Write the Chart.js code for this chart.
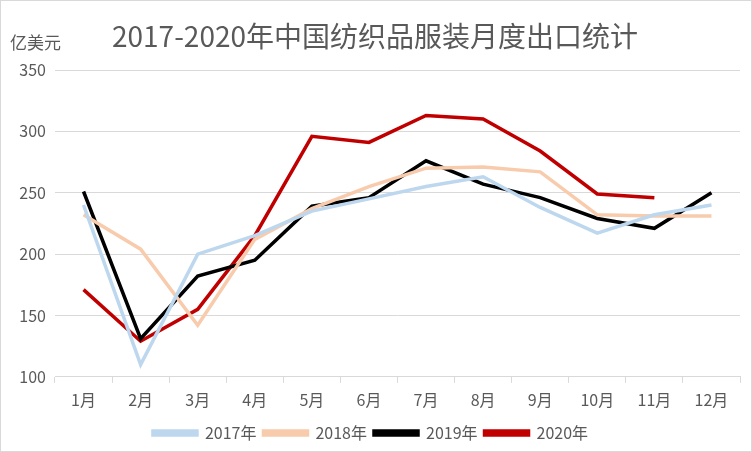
<!DOCTYPE html>
<html>
<head>
<meta charset="utf-8">
<script src="https://cdn.jsdelivr.net/npm/chart.js@4/dist/chart.umd.min.js"></script>
<style>
  html, body { margin: 0; padding: 0; background: #fff; }
  #wrap { position: relative; width: 750px; height: 450px; border: 1px solid #d9d9d9; }
</style>
</head>
<body>
<div id="wrap"><canvas id="chart" width="750" height="450"></canvas></div>
<script>
const months = ["1月", "2月", "3月", "4月", "5月", "6月", "7月", "8月", "9月", "10月", "11月", "12月"];
const y2017 = [240, 110, 200, 215, 235, 245, 255, 263, 238, 217, 232, 240];
const y2018 = [232, 204, 142, 212, 237, 255, 270, 271, 267, 232, 231, 231];
const y2019 = [251, 131, 182, 195, 239, 246, 276, 257, 246, 229, 221, 250];
const y2020 = [171, 129, 155, 215, 296, 291, 313, 310, 284, 249, 246, null];

const font = "'Noto Sans CJK SC', 'DejaVu Sans', sans-serif";
const textColor = "#595959";

const headerText = {
  id: "headerText",
  afterDraw(chart) {
    const c = chart.ctx;
    c.save();
    c.fillStyle = textColor;
    c.textBaseline = "middle";
    c.font = "28px " + font;
    c.textAlign = "center";
    c.fillText("2017-2020年中国纺织品服装月度出口统计", 374, 35);
    c.font = "17px " + font;
    c.textAlign = "left";
    c.fillText("亿美元", 9, 42);
    c.restore();
  }
};

function line(label, data, color) {
  return {
    label: label,
    data: data,
    borderColor: color,
    backgroundColor: color,
    borderWidth: 3.5,
    pointRadius: 0,
    tension: 0,
    spanGaps: false
  };
}

new Chart(document.getElementById("chart"), {
  type: "line",
  data: {
    labels: months,
    datasets: [
      line("2017年", y2017, "#bdd7ee"),
      line("2018年", y2018, "#f8cbad"),
      line("2019年", y2019, "#000000"),
      line("2020年", y2020, "#c00000")
    ]
  },
  options: {
    responsive: false,
    animation: false,
    layout: { padding: { top: 69, right: 11, left: 0, bottom: 0 } },
    scales: {
      x: {
        offset: true,
        grid: { offset: true, drawOnChartArea: false, color: "#d9d9d9", tickLength: 6 },
        border: { color: "#d9d9d9" },
        ticks: { color: textColor, font: { family: font, size: 16 }, maxRotation: 0, padding: 8 }
      },
      y: {
        min: 100,
        max: 350,
        afterFit(scale) { scale.width = 54; },
        grid: { color: "#d9d9d9", drawTicks: false },
        border: { display: false },
        ticks: { stepSize: 50, color: textColor, font: { family: font, size: 16 }, padding: 9 }
      }
    },
    plugins: {
      title: { display: false },
      tooltip: { enabled: false },
      legend: {
        position: "bottom",
        labels: {
          color: textColor,
          font: { family: font, size: 16 },
          boxWidth: 44,
          boxHeight: 4,
          padding: 7
        }
      }
    }
  },
  plugins: [headerText]
});
</script>
</body>
</html>
